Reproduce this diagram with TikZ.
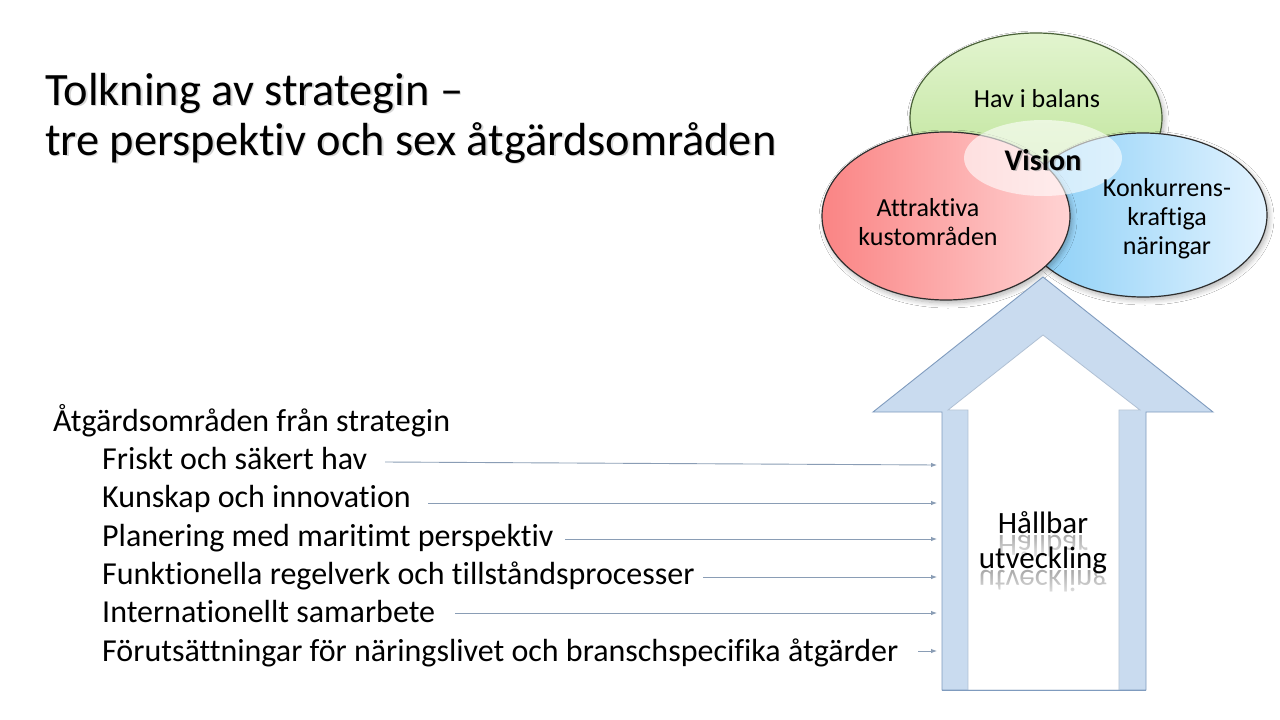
\documentclass[tikz,border=0pt]{standalone}
\usepackage{fontspec}
\setmainfont{Carlito}[Ligatures={NoCommon}]
\usetikzlibrary{shapes.geometric,shadows.blur,fadings,arrows.meta}
\definecolor{arrowfill}{HTML}{C9DBEF}
\definecolor{arrowedge}{HTML}{7F9BBE}
\definecolor{inneredge}{HTML}{AFC0D4}
\definecolor{connc}{HTML}{8A9DB5}
\definecolor{grtop}{HTML}{E2F4CF}
\definecolor{grbot}{HTML}{B9E291}
\definecolor{grline}{HTML}{4A6238}
\definecolor{redl}{HTML}{FA8484}
\definecolor{redr}{HTML}{FFD3D3}
\definecolor{bluel}{HTML}{86CDF6}
\definecolor{bluer}{HTML}{E3F3FF}
\definecolor{ellline}{HTML}{2E2E2E}
\tikzfading[name=reflfade, top color=transparent!100, bottom color=transparent!0]
\tikzset{
  ell/.style={ellipse, inner sep=0pt, line width=1.2pt,
    blur shadow={shadow xshift=2pt, shadow yshift=-3pt, shadow blur steps=8, shadow blur radius=5pt, shadow opacity=30}},
  etext/.style={align=center, font=\fontsize{26}{29}\selectfont, text=black},
  title/.style={anchor=base west, inner sep=0pt, font=\fontsize{46.4}{50}\selectfont},
  body/.style={anchor=base west, inner sep=0pt, font=\fontsize{32}{38}\selectfont},
  conn/.style={draw=connc, line width=0.9pt, -{Latex[length=6pt,width=4.5pt]}},
  hb/.style={anchor=base, inner sep=0pt, font=\fontsize{31}{35}\selectfont},
}
\begin{document}
\begin{tikzpicture}[x=1pt,y=-1pt]
\useasboundingbox[fill=white] (0,0) rectangle (1280,720);

% title with soft shadow
\node[title, text=black!30, opacity=0.5] at (46.5,106.5) {Tolkning av strategin --};
\node[title, text=black!30, opacity=0.5] at (46.5,156.5) {tre perspektiv och sex åtgärdsområden};
\node[title] (t1) at (45,105) {Tolkning av strategin --};
\node[title] (t2) at (45,155) {tre perspektiv och sex åtgärdsområden};

% three ellipses
\node[ell, draw=grline, top color=grtop, bottom color=grbot, minimum width=252, minimum height=170] (green) at (1036,118) {};
\node[ell, draw=ellline, left color=bluel, right color=bluer, minimum width=248, minimum height=164] (blue) at (1143,215) {};
\node[ell, draw=ellline, left color=redl, right color=redr, minimum width=248, minimum height=168] (red) at (946,216) {};
\node[ellipse, fill=white, fill opacity=0.6, minimum width=158, minimum height=76, inner sep=0pt] (vis) at (1043,158) {};

\node[etext] (hav) at (1037,99) {Hav i balans};
\node[etext] (attr) at (928,222) {Attraktiva\\kustområden};
\node[etext] (konk) at (1167,219) {Konkurrens-\\kraftiga\\näringar};
\node[font=\fontsize{30}{34}\selectfont\bfseries, text=black!40, opacity=0.6] at (1044.5,161.5) {Vision};
\node[font=\fontsize{30}{34}\selectfont\bfseries] (vision) at (1043,160) {Vision};

% big up arrow
\path[fill=arrowfill, draw=arrowedge, line width=0.9pt]
  (1043,277) -- (1213,412) -- (1146,412) -- (1146,690) -- (942,690) -- (942,412) -- (873,412) -- cycle;
\path[fill=white, draw=inneredge, line width=0.8pt]
  (1043,335) -- (1140,410) -- (1119,410) -- (1119,690) -- (968,690) -- (968,410) -- (948,410) -- cycle;
\draw[arrowedge, line width=0.9pt] (942,690) -- (1146,690);

% reflections of the arrow text
\node[hb, text=black!60, opacity=0.55] at (1043,535) {\scalebox{1}[-1]{Hållbar}};
\fill[white, path fading=reflfade] (990,536) rectangle (1096,566);
\node[hb, text=black!60, opacity=0.55] at (1043,570) {\scalebox{1}[-1]{utveckling}};
\fill[white, path fading=reflfade] (972,571) rectangle (1114,606);
\node[hb] (h1) at (1043,533) {Hållbar};
\node[hb] (h2) at (1043,568) {utveckling};

% list
\node[body] (l0) at (53,431) {Åtgärdsområden från strategin};
\node[body] (l1) at (102,469) {Friskt och säkert hav};
\node[body] (l2) at (102,507) {Kunskap och innovation};
\node[body] (l3) at (102,546) {Planering med maritimt perspektiv};
\node[body] (l4) at (102,584) {Funktionella regelverk och tillståndsprocesser};
\node[body] (l5) at (102,622) {Internationellt samarbete};
\node[body] (l6) at (102,661) {Förutsättningar för näringslivet och branschspecifika åtgärder};

\coordinate (s1) at (385,462); \coordinate (e1) at (937,465);
\coordinate (s2) at (428,503); \coordinate (e2) at (937,503);
\coordinate (s3) at (565,539); \coordinate (e3) at (937,539);
\coordinate (s4) at (703,577); \coordinate (e4) at (937,577);
\coordinate (s5) at (455,613); \coordinate (e5) at (937,613);
\coordinate (s6) at (918,651); \coordinate (e6) at (937,651);
\foreach \i in {1,...,6} { \draw[conn] (s\i) -- (e\i); }
\end{tikzpicture}
\end{document}
